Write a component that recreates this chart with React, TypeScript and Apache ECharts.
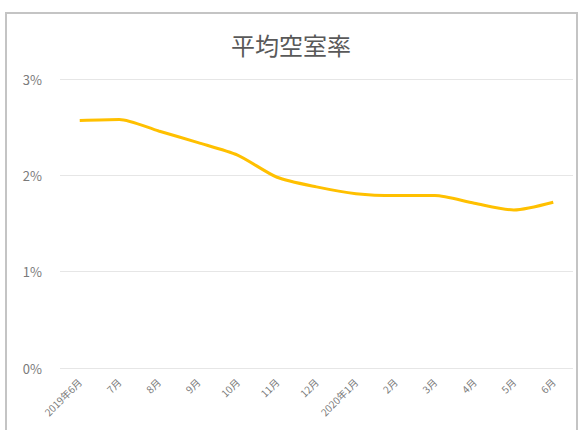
import React, { useEffect, useRef } from "react";
import * as echarts from "echarts";

const categories = ["2019年6月", "7月", "8月", "9月", "10月", "11月", "12月", "2020年1月", "2月", "3月", "4月", "5月", "6月"];
const vacancyRate = [2.57, 2.58, 2.46, 2.34, 2.21, 1.98, 1.88, 1.81, 1.79, 1.79, 1.71, 1.64, 1.72];
const yTicks = [0, 1, 2, 3];
const titleText = "平均空室率";

export default function App() {
  const ref = useRef<HTMLDivElement>(null);
  useEffect(() => {
    if (!ref.current) return;
    const chart = echarts.init(ref.current, null, { renderer: "svg" });
    const font = "'Noto Sans CJK JP', 'Noto Sans', sans-serif";
    chart.setOption({
      animation: false,
      backgroundColor: "#ffffff",
      textStyle: { fontFamily: font },
      title: {
        text: titleText,
        left: "center",
        top: 27,
        textStyle: { fontSize: 24, fontWeight: "normal", color: "#595959", fontFamily: font },
      },
      graphic: [
        {
          type: "rect",
          shape: { x: 6, y: 13, width: 571, height: 430 },
          style: { fill: "none", stroke: "#c4c4c4", lineWidth: 2 },
          silent: true,
        },
      ],
      grid: { left: 60, right: 9, top: 79, bottom: 62 },
      xAxis: {
        type: "category",
        data: categories,
        boundaryGap: true,
        axisLine: { show: false },
        axisTick: { show: false },
        axisLabel: {
          rotate: 45,
          fontSize: 10,
          color: "#7a7a7a",
          interval: 0,
          margin: 12,
          fontFamily: font,
        },
      },
      yAxis: {
        type: "value",
        min: yTicks[0],
        max: yTicks[yTicks.length - 1],
        interval: 1,
        axisLine: { show: false },
        axisTick: { show: false },
        axisLabel: {
          formatter: (v: number) => `${v}%`,
          fontSize: 13,
          color: "#7a7a7a",
          margin: 18,
          fontFamily: font,
        },
        splitLine: { lineStyle: { color: "#e6e6e6", width: 1 } },
      },
      series: [
        {
          type: "line",
          data: vacancyRate,
          smooth: 0.25,
          symbol: "none",
          lineStyle: { color: "#FFC000", width: 3 },
        },
      ],
    });
    return () => chart.dispose();
  }, []);
  return <div ref={ref} style={{ position: "absolute", left: 0, top: 0, width: 582, height: 430 }} />;
}
